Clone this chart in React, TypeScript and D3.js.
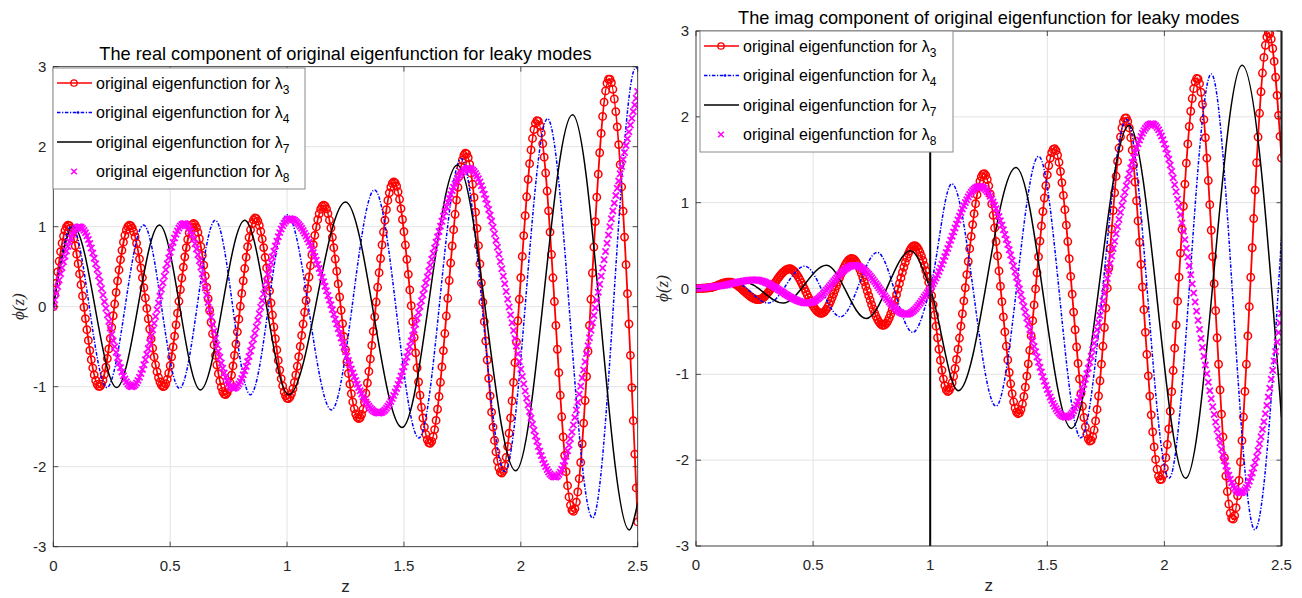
import React, { useEffect, useRef, useState } from 'react';
import * as d3 from 'd3';

// values: [z, phi] at extrema / a few intermediate points
const realL3: [number, number][] = [
  [0, 0], [0.064, 1.02], [0.197, -1.0], [0.326, 1.02], [0.471, -1.0], [0.6, 1.04],
  [0.736, -1.1], [0.864, 1.11], [1.004, -1.15], [1.157, 1.27], [1.307, -1.4],
  [1.457, 1.56], [1.611, -1.71], [1.764, 1.92], [1.918, -2.08], [2.071, 2.33],
  [2.224, -2.56], [2.378, 2.85], [2.5, -2.69],
];
const realL4: [number, number][] = [
  [0, 0], [0.079, 1.01], [0.229, -1.01], [0.386, 1.02], [0.54, -1.02], [0.693, 1.08],
  [0.843, -1.1], [1.0, 1.15], [1.19, -1.29], [1.374, 1.46], [1.564, -1.64],
  [1.745, 1.85], [1.931, -2.06], [2.114, 2.35], [2.307, -2.64], [2.492, 2.99], [2.5, 2.97],
];
const realL7: [number, number][] = [
  [0, 0], [0.086, 1.0], [0.271, -1.01], [0.454, 1.02], [0.629, -1.04], [0.819, 1.08],
  [1.007, -1.1], [1.25, 1.31], [1.492, -1.51], [1.728, 1.77], [1.978, -2.05],
  [2.221, 2.4], [2.464, -2.79], [2.5, -2.45],
];
const realL8: [number, number][] = [
  [0, 0], [0.111, 1.0], [0.336, -1.0], [0.56, 1.04], [0.771, -1.02], [1.011, 1.1],
  [1.393, -1.33], [1.778, 1.73], [2.147, -2.13], [2.307, -0.19], [2.407, 1.4], [2.5, 2.69],
];

const imagL3: [number, number][] = [
  [0, 0], [0.06, 0.01], [0.142, 0.075], [0.266, -0.13], [0.4, 0.23], [0.535, -0.29],
  [0.665, 0.35], [0.8, -0.43], [0.933, 0.5], [1.0, 0], [1.075, -1.2], [1.23, 1.34],
  [1.376, -1.46], [1.53, 1.63], [1.683, -1.78], [1.835, 1.99], [1.984, -2.23],
  [2.14, 2.45], [2.292, -2.69], [2.446, 2.98], [2.5, 1.52],
];
const imagL4: [number, number][] = [
  [0, 0], [0.07, 0.01], [0.166, 0.07], [0.308, -0.17], [0.464, 0.26], [0.617, -0.33],
  [0.774, 0.42], [0.926, -0.51], [1.0, 0], [1.092, 1.22], [1.281, -1.37], [1.463, 1.54],
  [1.643, -1.74], [1.839, 1.97], [2.02, -2.21], [2.2, 2.5], [2.386, -2.81], [2.5, 0.6],
];
const imagL7: [number, number][] = [
  [0, 0], [0.08, 0.01], [0.209, 0.07], [0.372, -0.17], [0.557, 0.27], [0.727, -0.35],
  [0.916, 0.44], [1.0, 0], [1.12, -1.19], [1.366, 1.41], [1.603, -1.63], [1.849, 1.9],
  [2.091, -2.21], [2.332, 2.6], [2.5, -1.5],
];
const imagL8: [number, number][] = [
  [0, 0], [0.1, 0.03], [0.251, 0.1], [0.479, -0.17], [0.677, 0.27], [0.898, -0.3],
  [1.0, 0], [1.21, 1.19], [1.58, -1.5], [1.946, 1.92], [2.325, -2.38], [2.5, -0.29],
];

const zTicks = [0, 0.5, 1, 1.5, 2, 2.5];
const phiTicks = [-3, -2, -1, 0, 1, 2, 3];
const subscripts = ['3', '4', '7', '8'];
const interfaceLines = [1, 2.5];
const realTitle = 'The real component of original eigenfunction for leaky modes';
const imagTitle = 'The imag component of original eigenfunction for leaky modes';
const markerStep = 2.5 / 400;

const FONT = '"Liberation Sans", Arial, Helvetica, sans-serif';
const kinds = ['circle', 'dashdot', 'solid', 'cross'];
const colors = ['#ff0000', '#0000ff', '#000000', '#ff00ff'];
const CR = 3.7; // circle radius
const XS = 3.1; // cross half size

function sampleAlong(path: SVGPathElement, xs: number[]) {
  const len = path.getTotalLength();
  const pts: [number, number][] = [];
  for (let l = 0; l <= len; l += 0.75) {
    const p = path.getPointAtLength(l);
    pts.push([p.x, p.y]);
  }
  const last = path.getPointAtLength(len);
  pts.push([last.x, last.y]);
  return xs.map((x) => {
    let lo = 0, hi = pts.length - 1;
    while (hi - lo > 1) {
      const mid = (lo + hi) >> 1;
      if (pts[mid][0] < x) lo = mid; else hi = mid;
    }
    const a = pts[lo], b = pts[hi];
    const t = b[0] === a[0] ? 0 : (x - a[0]) / (b[0] - a[0]);
    return [x, a[1] + t * (b[1] - a[1])] as [number, number];
  });
}

const crossPath = (x: number, y: number, s: number) =>
  `M${x - s},${y - s}L${x + s},${y + s}M${x - s},${y + s}L${x + s},${y - s}`;

const Panel = ({ id, x0, x1, y0, y1, title, titleY, data, legend, ylabelX, vlines }: any) => {
  const xs = d3.scaleLinear().domain([0, 2.5]).range([x0, x1]);
  const ys = d3.scaleLinear().domain([-3, 3]).range([y1, y0]);
  const line = d3.line<[number, number]>().x(d => xs(d[0])).y(d => ys(d[1])).curve(d3.curveMonotoneX);
  const refs = useRef<(SVGPathElement | null)[]>([]);
  const [marks, setMarks] = useState<Record<number, [number, number][]>>({});

  useEffect(() => {
    const grid = d3.range(0, 2.5 + 1e-9, markerStep).map(z => xs(z));
    const out: Record<number, [number, number][]> = {};
    data.forEach((_: any, i: number) => {
      const el = refs.current[i];
      if (el && (kinds[i] === 'circle' || kinds[i] === 'cross')) out[i] = sampleAlong(el, grid);
    });
    setMarks(out);
  }, []);

  const axisColor = '#262626';
  const rowY = (i: number) => legend.y + 15 + i * 29.5;

  const layers: any[] = [];
  data.forEach((d: [number, number][], i: number) => {
    const k = kinds[i];
    layers.push(
      <path
        key={'p' + i}
        ref={el => { refs.current[i] = el; }}
        d={line(d) || ''}
        fill="none"
        stroke={k === 'cross' ? 'none' : colors[i]}
        strokeWidth={k === 'circle' ? 1.8 : 1.5}
        strokeDasharray={k === 'dashdot' ? '3.5 1.6 1.2 1.6' : undefined}
      />
    );
    const m = marks[i];
    if (m && k === 'circle') {
      layers.push(
        <g key={'m' + i} fill="none" stroke={colors[i]} strokeWidth={1.5}>
          {m.map((p, j) => <circle key={j} cx={p[0]} cy={p[1]} r={CR} />)}
        </g>
      );
    }
    if (m && k === 'cross') {
      layers.push(
        <g key={'m' + i} stroke={colors[i]} strokeWidth={1.8}>
          {m.map((p, j) => <path key={j} d={crossPath(p[0], p[1], XS)} />)}
        </g>
      );
    }
  });

  return (
    <g>
      <defs>
        <clipPath id={id}>
          <rect x={x0} y={y0} width={x1 - x0} height={y1 - y0} />
        </clipPath>
      </defs>
      <rect x={x0} y={y0} width={x1 - x0} height={y1 - y0} fill="#fff" />
      {zTicks.map(t => (
        <line key={'gx' + t} x1={xs(t)} x2={xs(t)} y1={y0} y2={y1} stroke="#e3e3e3" strokeWidth={1} />
      ))}
      {phiTicks.map(t => (
        <line key={'gy' + t} x1={x0} x2={x1} y1={ys(t)} y2={ys(t)} stroke="#e3e3e3" strokeWidth={1} />
      ))}
      <g clipPath={`url(#${id})`}>{layers}</g>
      {vlines.map((z: number) => (
        <line key={'v' + z} x1={xs(z)} x2={xs(z)} y1={y0} y2={y1} stroke="#000" strokeWidth={2} />
      ))}
      <rect x={x0} y={y0} width={x1 - x0} height={y1 - y0} fill="none" stroke={axisColor} strokeWidth={0.8} />
      {zTicks.map(t => (
        <g key={'tx' + t}>
          <line x1={xs(t)} x2={xs(t)} y1={y1} y2={y1 - 5} stroke={axisColor} strokeWidth={0.8} />
          <line x1={xs(t)} x2={xs(t)} y1={y0} y2={y0 + 5} stroke={axisColor} strokeWidth={0.8} />
          <text x={xs(t)} y={y1 + 24} textAnchor="middle" fontSize={15} fontFamily={FONT} fill="#262626">{String(t)}</text>
        </g>
      ))}
      {phiTicks.map(t => (
        <g key={'ty' + t}>
          <line x1={x0} x2={x0 + 5} y1={ys(t)} y2={ys(t)} stroke={axisColor} strokeWidth={0.8} />
          <line x1={x1} x2={x1 - 5} y1={ys(t)} y2={ys(t)} stroke={axisColor} strokeWidth={0.8} />
          <text x={x0 - 7} y={ys(t) + 5} textAnchor="end" fontSize={15} fontFamily={FONT} fill="#262626">{String(t)}</text>
        </g>
      ))}
      <text x={(x0 + x1) / 2} y={titleY} textAnchor="middle" fontSize={18.2} fontFamily={FONT} fill="#000">{title}</text>
      <text x={(x0 + x1) / 2} y={y1 + 45} textAnchor="middle" fontSize={17} fontFamily={FONT} fill="#262626">z</text>
      <text transform={`translate(${ylabelX},${(y0 + y1) / 2}) rotate(-90)`} textAnchor="middle" fontSize={17}
        fontFamily='"Liberation Serif", "DejaVu Serif", serif' fontStyle="italic" fill="#262626">ϕ(z)</text>

      <rect x={legend.x} y={legend.y} width={legend.w} height={legend.h} fill="#fff" stroke="#8a8a8a" strokeWidth={1} />
      {subscripts.map((s, i) => {
        const cy = rowY(i);
        const lx0 = legend.x + 4, lx1 = legend.x + 39, mx = legend.x + 21;
        const k = kinds[i];
        return (
          <g key={'lg' + i}>
            {k !== 'cross' && (
              <line x1={lx0} x2={lx1} y1={cy} y2={cy} stroke={colors[i]} strokeWidth={1.5}
                strokeDasharray={k === 'dashdot' ? '3.5 1.6 1.2 1.6' : undefined} />
            )}
            {k === 'circle' && <circle cx={mx} cy={cy} r={3.2} fill="none" stroke={colors[i]} strokeWidth={1.3} />}
            {k === 'dashdot' && <circle cx={mx + 4} cy={cy} r={1.3} fill={colors[i]} />}
            {k === 'cross' && <path d={crossPath(mx, cy, 2.8)} stroke={colors[i]} strokeWidth={1.5} />}
            <text x={legend.x + 43} y={cy + 5.5} fontSize={16} fontFamily={FONT} fill="#000">
              original eigenfunction for λ
              <tspan fontSize={12} dy={5}>{s}</tspan>
            </text>
          </g>
        );
      })}
    </g>
  );
};

export default function App() {
  return (
    <svg width={1302} height={598} style={{ display: 'block', position: 'absolute', left: 0, top: 0 }}>
      <rect width={1302} height={598} fill="#fff" />
      <Panel id="clipReal" x0={53.3} x1={637.7} y0={66.7} y1={546.7} title={realTitle} titleY={59.5}
        data={[realL3, realL4, realL7, realL8]} legend={{ x: 53, y: 68, w: 252, h: 121 }} ylabelX={24} vlines={[]} />
      <Panel id="clipImag" x0={696} x1={1281.5} y0={31} y1={546} title={imagTitle} titleY={24}
        data={[imagL3, imagL4, imagL7, imagL8]} legend={{ x: 700, y: 31, w: 253, h: 121 }} ylabelX={668} vlines={interfaceLines} />
    </svg>
  );
}
